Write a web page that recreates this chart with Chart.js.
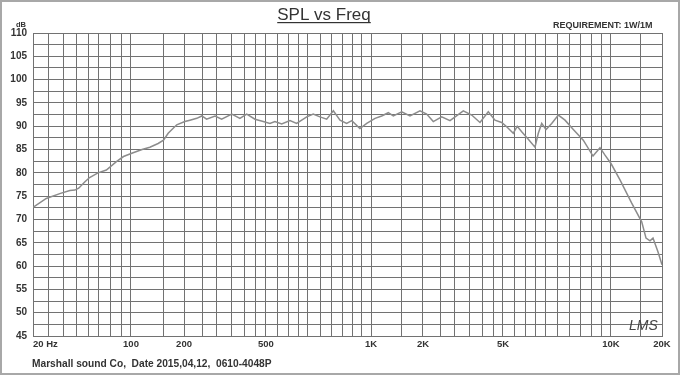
<!DOCTYPE html>
<html>
<head>
<meta charset="utf-8">
<title>SPL vs Freq</title>
<script src="https://cdn.jsdelivr.net/npm/chart.js@4"></script>
<style>
  html, body { margin: 0; padding: 0; background: #fff; }
</style>
</head>
<body>
<canvas id="spl" width="680" height="375"></canvas>
<script>
// response (Hz / dB)
var freqs = [20, 28, 38, 45, 49, 52, 57, 61, 69, 76,
  85, 92, 101, 115, 127, 141, 151, 161, 181, 202,
  215, 234, 249, 264, 293, 315, 350, 381, 409, 446,
  486, 516, 537, 567, 606, 639, 693, 721, 749, 778,
  808, 839, 871, 897, 939, 976, 1054, 1150, 1254, 1339,
  1495, 1674, 1920, 2096, 2279, 2535, 2816, 3277, 3583, 3914,
  4276, 4591, 4930, 5150, 5430, 5606, 5808, 6124, 6461, 6634,
  6817, 7037, 7258, 7524, 7799, 8157, 8609, 9074, 9423, 9682,
  10000, 11300, 13250, 15180, 16100, 16990, 17700, 18950, 20000];
var spl = [72.6, 74.5, 75.6, 76.2, 76.3, 76.7, 78.1, 79.0, 80.0, 80.6,
  82.4, 83.5, 84.2, 85.0, 85.5, 86.3, 87.0, 88.5, 90.3, 91.0,
  91.3, 91.7, 92.2, 91.5, 92.2, 91.5, 92.6, 91.7, 92.6, 91.5,
  91.0, 90.6, 91.0, 90.5, 91.2, 90.6, 92.0, 92.6, 92.0, 91.5,
  93.3, 91.3, 90.6, 91.2, 89.5, 90.6, 91.7, 92.2, 92.9, 92.2,
  93.1, 92.2, 93.3, 92.6, 91.0, 92.0, 91.2, 93.3, 92.4, 90.8,
  93.1, 91.3, 90.8, 89.9, 88.5, 90.0, 88.8, 87.2, 85.5, 88.5,
  90.6, 89.3, 90.6, 92.4, 91.3, 89.3, 87.0, 83.6, 85.4, 83.8,
  82.0, 78.5, 73.5, 69.5, 66.0, 65.4, 66.0, 63.0, 60.3];

var xLabelFreq = [20, 100, 200, 500, 1000, 2000, 5000, 10000, 20000];
var xLabelText = ["20 Hz", "100", "200", "500", "1K", "2K", "5K", "10K", "20K"];

// the chart paper is not a clean log axis: where each frequency sits
// along the axis (0..1), log-interpolated in between
var warpFreq = [20, 30, 40, 50, 70, 100, 150, 200, 300, 500, 700, 1000, 1500, 2000, 3000, 5000, 7000, 10000, 20000];
var warpPos = [0, 0.0254, 0.0477, 0.0684, 0.1049, 0.1558, 0.2067, 0.2401, 0.2925, 0.3704, 0.4372, 0.5374, 0.5866, 0.62, 0.6709, 0.7472, 0.814, 0.9189, 1];

// vertical grid lines of the paper
var gridFreq = [];
for (var f = 20; f <= 100; f += 10) gridFreq.push(f);
for (f = 150; f <= 1000; f += 50) gridFreq.push(f);
for (f = 1500; f <= 10000; f += 500) gridFreq.push(f);
gridFreq.push(15000, 20000);

function toFrac(v) {
  if (v <= warpFreq[0]) return 0;
  for (var i = 1; i < warpFreq.length; i++) {
    if (v <= warpFreq[i]) {
      var a = Math.log(v / warpFreq[i - 1]) / Math.log(warpFreq[i] / warpFreq[i - 1]);
      return warpPos[i - 1] + a * (warpPos[i] - warpPos[i - 1]);
    }
  }
  return 1;
}
function fromFrac(t) {
  for (var i = 1; i < warpPos.length; i++) {
    if (t <= warpPos[i]) {
      var a = (t - warpPos[i - 1]) / (warpPos[i] - warpPos[i - 1]);
      return warpFreq[i - 1] * Math.pow(warpFreq[i] / warpFreq[i - 1], a);
    }
  }
  return warpFreq[warpFreq.length - 1];
}

class WarpScale extends Chart.LinearScale {
  static id = "warp";
  buildTicks() {
    return gridFreq.map(function (v) { return { value: v }; });
  }
  getPixelForValue(v) {
    return this.getPixelForDecimal(toFrac(v));
  }
  getValueForPixel(p) {
    return fromFrac(this.getDecimalForPixel(p));
  }
}
Chart.register(WarpScale);

var gridColor = "#727272";
var textColor = "#333";

var paper = {
  id: "paper",
  beforeDraw: function (chart) {
    var c = chart.ctx;
    c.save();
    c.fillStyle = "#fff";
    c.fillRect(0, 0, chart.width, chart.height);
    c.strokeStyle = "#a8a8a8";
    c.lineWidth = 2;
    c.strokeRect(1, 1, chart.width - 2, chart.height - 2);
    c.restore();
  },
  afterDraw: function (chart) {
    var c = chart.ctx;
    var xs = chart.scales.x;
    c.save();
    c.fillStyle = textColor;

    // title, underlined
    c.font = "17px Arial";
    c.textAlign = "center";
    c.textBaseline = "alphabetic";
    c.fillText("SPL vs Freq", 324, 20);
    var w = c.measureText("SPL vs Freq").width;
    c.fillRect(324 - w / 2, 22, w, 1.2);

    c.font = "bold 9px Arial";
    c.textAlign = "left";
    c.fillText("REQUIREMENT: 1W/1M", 553, 28);

    c.font = "bold 7.5px Arial";
    c.fillText("dB", 16, 26.5);

    // frequency labels
    c.font = "bold 9.5px Arial";
    c.textBaseline = "middle";
    xLabelFreq.forEach(function (v, i) {
      c.textAlign = i === 0 ? "left" : "center";
      c.fillText(xLabelText[i], xs.getPixelForValue(v), 344);
    });

    c.textAlign = "left";
    c.font = "bold 10.2px Arial";
    c.fillText("Marshall sound Co,  Date 2015,04,12,  0610-4048P", 32, 364);

    c.font = "italic 14px Arial";
    c.textBaseline = "alphabetic";
    c.fillStyle = "#444";
    c.fillText("LMS", 629, 330);
    c.restore();
  }
};

new Chart(document.getElementById("spl"), {
  type: "line",
  data: {
    datasets: [{
      label: "SPL",
      data: freqs.map(function (f, i) { return { x: f, y: spl[i] }; }),
      borderColor: "#8c8c8c",
      borderWidth: 1.5,
      pointRadius: 0,
      tension: 0,
      fill: false
    }]
  },
  options: {
    responsive: false,
    animation: false,
    events: [],
    layout: { padding: { top: 33, right: 18, bottom: 0, left: 0 } },
    plugins: { legend: { display: false }, tooltip: { enabled: false } },
    scales: {
      x: {
        type: "warp",
        min: 20,
        max: 20000,
        afterFit: function (s) { s.height = 39; },
        ticks: { display: false, autoSkip: false, callback: function () { return ""; } },
        grid: { color: gridColor, lineWidth: 1, drawTicks: false },
        border: { color: gridColor, width: 1 }
      },
      y: {
        min: 45,
        max: 110,
        afterFit: function (s) { s.width = 33; },
        ticks: {
          stepSize: 2.5,
          autoSkip: false,
          padding: 6,
          color: textColor,
          font: { family: "Arial", size: 10, weight: "bold" },
          callback: function (v) { return v % 5 === 0 ? v : ""; }
        },
        grid: { color: gridColor, lineWidth: 1, drawTicks: false },
        border: { color: gridColor, width: 1 }
      }
    }
  },
  plugins: [paper]
});
</script>
</body>
</html>
